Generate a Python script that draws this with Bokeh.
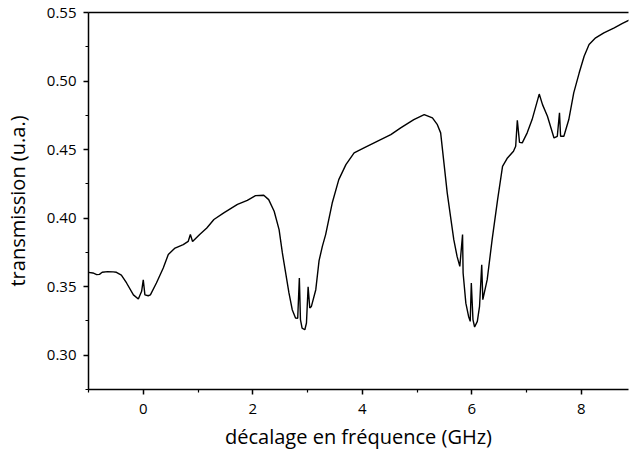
from bokeh.plotting import figure
from bokeh.models import LinearAxis, FixedTicker, Range1d, NumeralTickFormatter
from bokeh.embed import file_html
from bokeh.resources import INLINE

freq = [-1.0, -0.92, -0.85, -0.80, -0.75, -0.65, -0.55, -0.49, -0.40, -0.305, -0.18, -0.09,
        -0.03, 0.0, 0.03, 0.09, 0.13, 0.24, 0.365, 0.457, 0.58, 0.73, 0.82, 0.86, 0.90, 1.03,
        1.16, 1.29, 1.47, 1.72, 1.90, 2.05, 2.20, 2.29, 2.39, 2.48, 2.54, 2.60, 2.66, 2.72,
        2.78, 2.82, 2.85, 2.87, 2.90, 2.95, 2.98, 3.01, 3.04, 3.07, 3.15, 3.21, 3.27, 3.33,
        3.45, 3.57, 3.70, 3.85, 4.03, 4.27, 4.52, 4.70, 4.94, 5.13, 5.28, 5.37, 5.43, 5.49,
        5.55, 5.61, 5.67, 5.73, 5.78, 5.83, 5.84, 5.89, 5.94, 5.97, 5.99, 6.02, 6.05, 6.10,
        6.14, 6.18, 6.20, 6.28, 6.37, 6.47, 6.56, 6.65, 6.76, 6.80, 6.83, 6.87, 6.92, 7.01,
        7.10, 7.23, 7.29, 7.38, 7.50, 7.56, 7.60, 7.62, 7.68, 7.77, 7.86, 7.96, 8.05, 8.14,
        8.26, 8.41, 8.60, 8.75, 8.87]
trans = [0.3604, 0.3600, 0.3588, 0.3590, 0.3605, 0.3610, 0.3608, 0.3605, 0.3585, 0.3527, 0.3440, 0.3410,
         0.3466, 0.3550, 0.3440, 0.3434, 0.3440, 0.3527, 0.3636, 0.3734, 0.3782, 0.3807, 0.3830, 0.3880, 0.3830, 0.3880,
         0.3928, 0.3990, 0.4038, 0.4100, 0.4130, 0.4164, 0.4167, 0.4135, 0.4050, 0.3916, 0.3746, 0.3600, 0.3454, 0.3332,
         0.3272, 0.3270, 0.3564, 0.3260, 0.3198, 0.3186, 0.3235, 0.3500, 0.3345, 0.3356, 0.3478, 0.3690, 0.3794, 0.3880,
         0.4110, 0.4281, 0.4390, 0.4476, 0.4512, 0.4560, 0.4609, 0.4658, 0.4719, 0.4755, 0.4731, 0.4682, 0.4622, 0.4403,
         0.4184, 0.4013, 0.3843, 0.3721, 0.3648, 0.3880, 0.3600, 0.3380, 0.3283, 0.3247, 0.3527, 0.3260, 0.3206, 0.3247,
         0.3356, 0.3660, 0.3405, 0.3551, 0.3843, 0.4135, 0.4378, 0.4439, 0.4488, 0.4524, 0.4714, 0.4553, 0.4549, 0.4622,
         0.4719, 0.4905, 0.4828, 0.4743, 0.4585, 0.4597, 0.4768, 0.4597, 0.4597, 0.4719, 0.4914, 0.5060, 0.5181, 0.5266,
         0.5315, 0.5352, 0.5388, 0.5420, 0.5444]

x_ticks = [0, 2, 4, 6, 8]
x_minor = [-1, 1, 3, 5, 7]
y_ticks = [0.30, 0.35, 0.40, 0.45, 0.50, 0.55]
y_minor = [0.275, 0.325, 0.375, 0.425, 0.475, 0.525]

FONT = "Open Sans"

p = figure(width=630, height=454, output_backend="svg", toolbar_location=None,
           x_range=Range1d(-1.0, 8.86), y_range=Range1d(0.275, 0.55),
           x_axis_label="décalage en fréquence (GHz)", y_axis_label="transmission (u.a.)",
           min_border_left=80, min_border_right=2, min_border_top=12, min_border_bottom=65)
p.outline_line_color = None
p.grid.visible = False
p.background_fill_color = "white"
p.border_fill_color = "white"

p.line(freq, trans, line_color="black", line_width=1.4)

for ax in (p.xaxis[0], p.yaxis[0]):
    ax.axis_line_color = "black"
    ax.axis_line_width = 1.5
    ax.major_tick_line_color = "black"
    ax.minor_tick_line_color = "black"
    ax.major_tick_line_width = 1.5
    ax.minor_tick_line_width = 1.2
    ax.major_tick_out = 5
    ax.major_tick_in = 0
    ax.minor_tick_out = 3
    ax.minor_tick_in = 0
    ax.major_label_text_font = FONT
    ax.major_label_text_font_size = "15px"
    ax.major_label_text_color = "black"
    ax.axis_label_text_font = FONT
    ax.axis_label_text_font_size = "20px"
    ax.axis_label_text_font_style = "normal"
    ax.axis_label_text_color = "black"

p.xaxis[0].ticker = FixedTicker(ticks=x_ticks, minor_ticks=x_minor)
p.yaxis[0].ticker = FixedTicker(ticks=y_ticks, minor_ticks=y_minor)
p.yaxis[0].formatter = NumeralTickFormatter(format="0.00")
p.xaxis[0].major_label_standoff = 9
p.yaxis[0].major_label_standoff = 7
p.xaxis[0].axis_label_standoff = 6
p.yaxis[0].axis_label_standoff = 13

top = LinearAxis(axis_line_color="black", axis_line_width=1.5,
                 major_tick_line_color=None, minor_tick_line_color=None,
                 major_label_text_font_size="0px", major_label_text_color=None,
                 major_label_standoff=0)
p.add_layout(top, "above")

open("out.html", "w").write(file_html(p, INLINE))
